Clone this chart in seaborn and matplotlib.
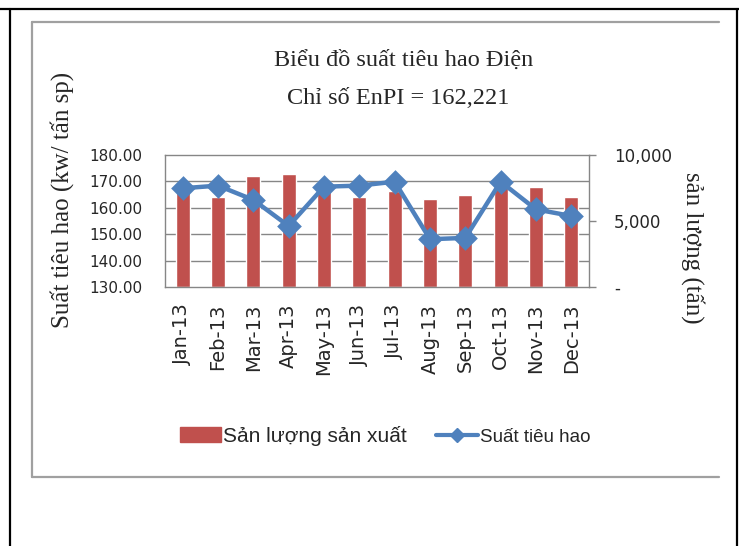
import seaborn as sns
import numpy as np
import matplotlib.pyplot as plt
from matplotlib.lines import Line2D
from matplotlib.patches import Patch
from matplotlib.ticker import MultipleLocator

months = ['Jan-13', 'Feb-13', 'Mar-13', 'Apr-13', 'May-13', 'Jun-13',
          'Jul-13', 'Aug-13', 'Sep-13', 'Oct-13', 'Nov-13', 'Dec-13']
# sản lượng sản xuất (tấn) - right axis
san_luong = [7650, 6800, 8400, 8550, 7950, 6800, 7300, 6650, 6950, 7650, 7550, 6800]
# suất tiêu hao (kw/tấn sp) - left axis
suat_tieu_hao = [167.4, 168.4, 163.0, 153.1, 168.0, 168.4, 169.9, 148.1, 148.6, 169.9, 159.4, 156.9]

left_ticks = [130, 140, 150, 160, 170, 180]
right_ticks = [0, 5000, 10000]
right_labels = ['-', '5,000', '10,000']

red = '#C0504D'
blue = '#4F81BD'
grey = '#868686'

sns.set_style('white')
plt.rcParams['font.family'] = ['DejaVu Sans']

W, H = 739, 546
fig = plt.figure(figsize=(W / 100, H / 100), dpi=100)
ax = fig.add_axes([165 / W, 1 - 287 / H, 424 / W, 132 / H])
ax2 = ax.twinx()

# bars on the bottom axes (scale shown on the right)
sns.barplot(x=months, y=san_luong, color=red, saturation=1, width=0.4, ax=ax)
# line on the twin axes (scale shown on the left)
sns.pointplot(x=months, y=suat_tieu_hao, color=blue, markers='D', linestyles='-',
              errorbar=None, linewidth=3.2, markersize=10, ax=ax2)

ax.set_ylim(0, 10000)
ax.set_xlim(-0.5, len(months) - 0.5)
ax2.set_xlim(-0.5, len(months) - 0.5)
ax.yaxis.tick_right()
ax.set_yticks(right_ticks)
ax.set_yticklabels(right_labels, fontsize=12)
ax.yaxis.set_minor_locator(MultipleLocator(2000))
ax.grid(True, which='minor', axis='y', color=grey, lw=1)
ax.set_axisbelow(True)
ax.tick_params(axis='y', which='major', direction='out', length=5, width=1, color=grey, pad=13,
               right=True, left=False, labelright=True, labelleft=False)
ax.tick_params(axis='y', which='minor', length=0)
ax.tick_params(axis='x', length=0, pad=12)
for lab in ax.get_xticklabels():
    lab.set_rotation(90)
    lab.set_fontsize(14)
ax.set_xlabel('')
ax.set_ylabel('')
for s in ax.spines.values():
    s.set_color(grey)
    s.set_linewidth(1)

ax2.set_ylim(130, 180)
ax2.yaxis.tick_left()
ax2.set_yticks(left_ticks)
ax2.set_yticklabels(['%.2f' % v for v in left_ticks], fontsize=11)
ax2.tick_params(axis='y', length=0, pad=16, left=True, right=False, labelleft=True, labelright=False)
ax2.set_xlabel('')
ax2.set_ylabel('')
for s in ax2.spines.values():
    s.set_visible(False)

# titles and axis labels
serif = ['Liberation Serif', 'DejaVu Serif']
fig.text(404 / W, 1 - 60 / H, 'Biểu đồ suất tiêu hao Điện', ha='center', va='center', fontsize=17.5, family=serif)
fig.text(398 / W, 1 - 98 / H, 'Chỉ số EnPI = 162,221', ha='center', va='center', fontsize=17.5, family=serif)
fig.text(62 / W, 1 - 200 / H, 'Suất tiêu hao (kw/ tấn sp)', ha='center', va='center', rotation=90, fontsize=18, family=serif)
fig.text(693 / W, 1 - 248 / H, 'sản lượng (tấn)', ha='center', va='center', rotation=270, fontsize=18, family=serif)

# legend
handles = [Patch(facecolor=red, edgecolor=red),
           Line2D([0], [0], color=blue, lw=3, marker='D', markersize=7)]
leg = fig.legend(handles, ['Sản lượng sản xuất', 'Suất tiêu hao'], loc='center',
                 bbox_to_anchor=(385 / W, 1 - 436 / H), ncol=2, frameon=False,
                 handlelength=2.0, handleheight=0.7, handletextpad=0.1, columnspacing=1.4,
                 prop={'family': ['Liberation Sans', 'DejaVu Sans'], 'size': 15})
leg.get_texts()[1].set_fontsize(13.5)

# outer frame and chart border
fig.add_artist(Line2D([0, 1], [1 - 9 / H, 1 - 9 / H], color='black', lw=1.6, transform=fig.transFigure))
fig.add_artist(Line2D([10 / W, 10 / W], [0, 1 - 9 / H], color='black', lw=1.6, transform=fig.transFigure))
fig.add_artist(Line2D([737 / W, 737 / W], [0, 1 - 9 / H], color='black', lw=1.6, transform=fig.transFigure))
fig.add_artist(Line2D([32 / W, 719 / W], [1 - 22 / H, 1 - 22 / H], color='#A0A0A0', lw=1.6, transform=fig.transFigure))
fig.add_artist(Line2D([32 / W, 32 / W], [1 - 22 / H, 1 - 477 / H], color='#A0A0A0', lw=1.6, transform=fig.transFigure))
fig.add_artist(Line2D([32 / W, 719 / W], [1 - 477 / H, 1 - 477 / H], color='#A0A0A0', lw=1.6, transform=fig.transFigure))

fig.savefig('out.png', dpi=100)
